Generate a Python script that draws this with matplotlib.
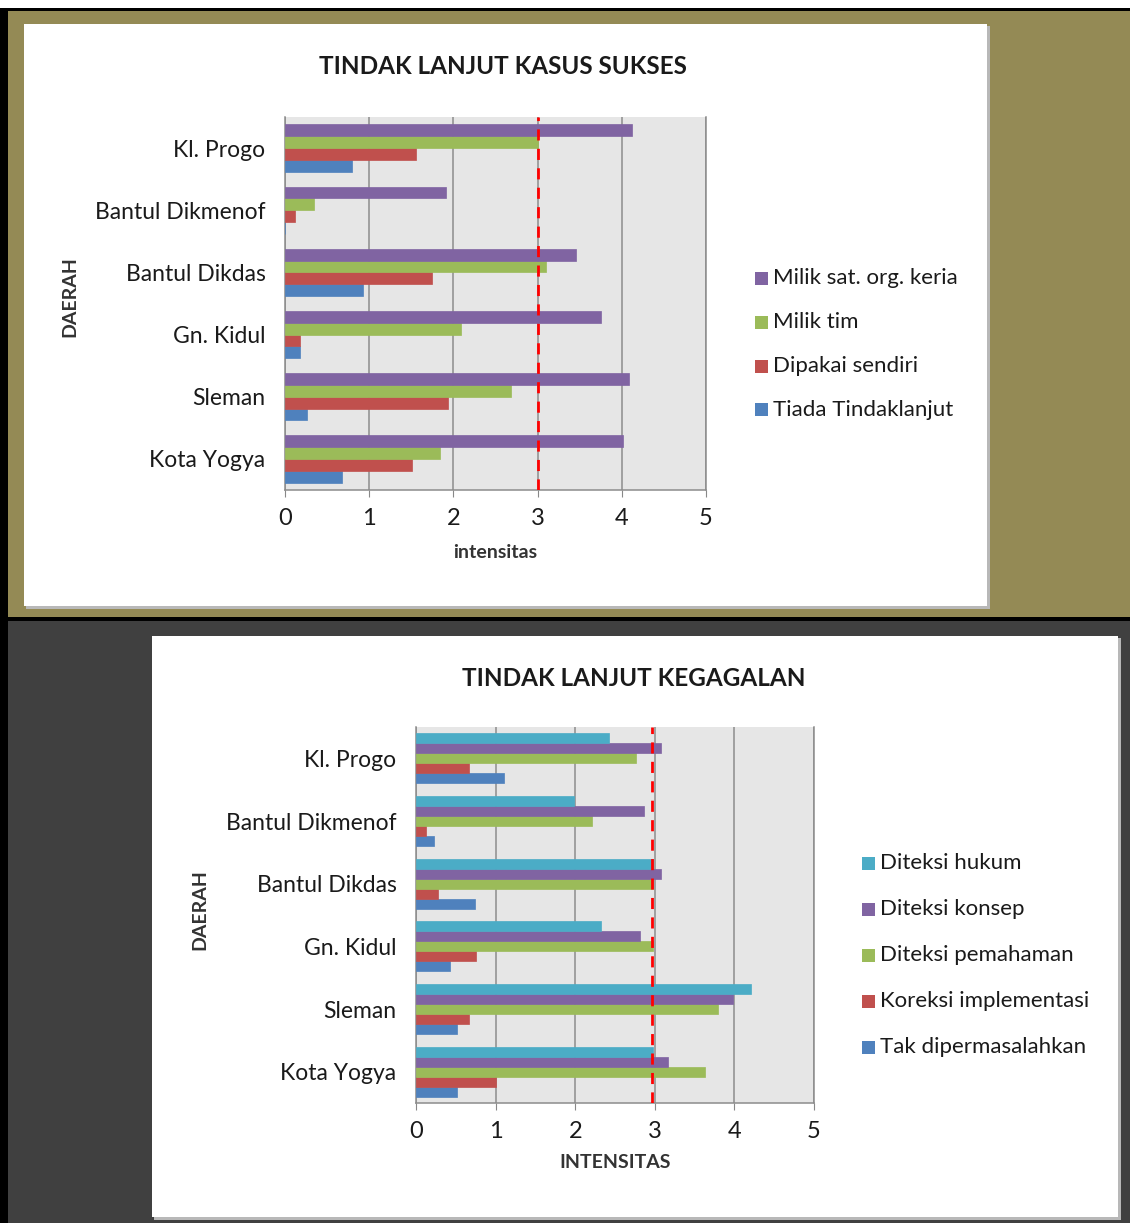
import matplotlib
matplotlib.use("Agg")
import matplotlib.pyplot as plt
from matplotlib.patches import Rectangle
import numpy as np

W, H = 1130, 1223
FONT = ['Lato', 'DejaVu Sans']
plt.rcParams['font.family'] = FONT

# ---------------- data ----------------
regions = ["Kl. Progo", "Bantul Dikmenof", "Bantul Dikdas", "Gn. Kidul", "Sleman", "Kota Yogya"]
xticks = [0, 1, 2, 3, 4, 5]

# chart 1: TINDAK LANJUT KASUS SUKSES (series listed bottom-of-group first)
sukses_names = ["Tiada Tindaklanjut", "Dipakai sendiri", "Milik tim", "Milik sat. org. keria"]
tiada = [0.79, 0.00, 0.93, 0.18, 0.26, 0.68]
dipakai = [1.56, 0.12, 1.74, 0.18, 1.94, 1.51]
milik_tim = [3.00, 0.34, 3.10, 2.09, 2.68, 1.84]
milik_sat = [4.12, 1.91, 3.46, 3.75, 4.09, 4.01]
sukses_ref = 3.0

# chart 2: TINDAK LANJUT KEGAGALAN
gagal_names = ["Tak dipermasalahkan", "Koreksi implementasi", "Diteksi pemahaman", "Diteksi konsep", "Diteksi hukum"]
tak = [1.11, 0.23, 0.74, 0.43, 0.51, 0.51]
koreksi = [0.67, 0.12, 0.28, 0.75, 0.67, 1.01]
pemahaman = [2.77, 2.21, 2.98, 2.98, 3.80, 3.63]
konsep = [3.08, 2.86, 3.08, 2.81, 3.98, 3.16]
hukum = [2.43, 1.98, 2.98, 2.32, 4.21, 2.98]
gagal_ref = 2.97

C_BLUE, C_RED, C_GREEN, C_PURPLE, C_CYAN = "#4F81BD", "#C0504D", "#9BBB59", "#8064A2", "#4BACC6"

fig = plt.figure(figsize=(W / 100, H / 100), dpi=100)
fig.patch.set_facecolor("white")


def frect(x0, y0, x1, y1, **kw):
    fig.patches.append(Rectangle((x0 / W, 1 - y1 / H), (x1 - x0) / W, (y1 - y0) / H,
                                 transform=fig.transFigure, **kw))


def fax(x0, y0, x1, y1):
    return fig.add_axes([x0 / W, 1 - y1 / H, (x1 - x0) / W, (y1 - y0) / H])


def ftext(x, y, s, **kw):
    fig.text(x / W, 1 - y / H, s, **kw)


# backgrounds
frect(0, 8, W, H, facecolor="black", edgecolor="none", zorder=0)
frect(8, 11, W, 617, facecolor="#948A55", edgecolor="none", zorder=0)
frect(8, 621, W, H, facecolor="#404040", edgecolor="none", zorder=0)
# white chart boxes with light shadow
frect(26, 26, 990, 609, facecolor="#B8B8B8", edgecolor="none", zorder=1)
frect(24, 24, 987, 606, facecolor="white", edgecolor="none", zorder=2)
frect(154, 638, 1121, 1220, facecolor="#B8B8B8", edgecolor="none", zorder=1)
frect(152, 636, 1118, 1217, facecolor="white", edgecolor="none", zorder=2)

TXT = "#1A1A1A"


def draw_chart(box, series, names, colors, ref, title, title_xy, xlabel, xlabel_y,
               ylabel_xy, leg_x, leg_y0, leg_dy):
    ax = fax(*box)
    ax.set_zorder(5)
    n = len(series)
    bh = (0.76 if n == 4 else 0.80) / n
    ypos = np.arange(len(regions))[::-1]  # Kl. Progo at top
    for i, (vals, c) in enumerate(zip(series, colors)):
        off = (i - (n - 1) / 2) * bh
        ax.barh(ypos + off, vals, height=bh, color=c, edgecolor=c, linewidth=0.5, zorder=3)
    ax.set_xlim(0, 5)
    ax.set_ylim(-0.5, len(regions) - 0.5)
    ax.set_facecolor("#E6E6E6")
    ax.set_xticks(xticks)
    ax.set_xticklabels([str(t) for t in xticks], fontsize=17, color=TXT)
    ax.set_yticks(ypos)
    ax.set_yticklabels(regions, fontsize=16.5, color=TXT)
    ax.tick_params(axis="x", direction="out", length=5, color="#888888", pad=8)
    ax.tick_params(axis="y", length=0, pad=14)
    ax.grid(axis="x", color="#8C8C8C", linewidth=1.1, zorder=1)
    ax.spines["top"].set_visible(False)
    for s in ("left", "bottom", "right"):
        ax.spines[s].set_color("#8C8C8C")
        ax.spines[s].set_linewidth(1.1)
    ax.axvline(ref, color="red", linestyle=(0, (4, 3)), linewidth=2, zorder=5)
    ftext(title_xy[0], title_xy[1], title, fontsize=17.5, fontweight="bold", color=TXT,
          ha="center", va="center", zorder=10)
    ftext((box[0] + box[2]) / 2, xlabel_y, xlabel, fontsize=14, fontweight="bold",
          color="#333333", ha="center", va="center", zorder=10)
    ftext(ylabel_xy[0], ylabel_xy[1], "DAERAH", fontsize=14, fontweight="bold",
          color="#333333", ha="center", va="center", rotation=90, zorder=10)
    # legend (top entry = last series)
    for k, (nm, c) in enumerate(zip(names[::-1], colors[::-1])):
        yy = leg_y0 + k * leg_dy
        frect(leg_x, yy - 6.5, leg_x + 13, yy + 6.5, facecolor=c, edgecolor="none", zorder=10)
        ftext(leg_x + 18, yy, nm, fontsize=16, color=TXT, ha="left", va="center", zorder=10)
    return ax


draw_chart((285, 117, 706, 490), [tiada, dipakai, milik_tim, milik_sat], sukses_names,
           [C_BLUE, C_RED, C_GREEN, C_PURPLE], sukses_ref,
           "TINDAK LANJUT KASUS SUKSES", (503, 67), "intensitas", 553, (70, 297),
           755, 278, 44)

draw_chart((416, 727, 814, 1103), [tak, koreksi, pemahaman, konsep, hukum], gagal_names,
           [C_BLUE, C_RED, C_GREEN, C_PURPLE, C_CYAN], gagal_ref,
           "TINDAK LANJUT KEGAGALAN", (634, 678), "INTENSITAS", 1163, (200, 910),
           862, 863, 46)

fig.savefig("out.png", dpi=100)
